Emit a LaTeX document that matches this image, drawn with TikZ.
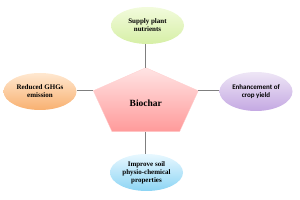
\documentclass[tikz,border=0pt]{standalone}
\usepackage{fontspec}
\setmainfont{Liberation Serif}
\newfontfamily\calib{Carlito}
\usetikzlibrary{shapes.geometric}
\definecolor{gtop}{HTML}{F2FBDC}\definecolor{gbot}{HTML}{D6EFA6}
\definecolor{otop}{HTML}{FFE8D0}\definecolor{obot}{HTML}{F8B070}
\definecolor{ptop}{HTML}{EEE6F6}\definecolor{pbot}{HTML}{C4A8E2}
\definecolor{btop}{HTML}{E8F8FF}\definecolor{bbot}{HTML}{8CD4F4}
\definecolor{ktop}{HTML}{FFE4E4}\definecolor{kbot}{HTML}{FF9A9A}
\definecolor{linkc}{HTML}{7F7F7F}
\tikzset{
  bubble/.style={ellipse, minimum width=73pt, minimum height=37pt, inner sep=0pt,
    align=center, font=\fontsize{7}{8}\selectfont\bfseries},
  link/.style={draw=linkc, line width=0.8pt}
}
\begin{document}
\begin{tikzpicture}[x=1pt,y=1pt]
\useasboundingbox (0,0) rectangle (300,200);
% pentagon
\coordinate (pt) at (145.8,132.3);
\coordinate (pl) at (93.3,109.3);
\coordinate (pr) at (198.3,109.3);
\coordinate (pbr) at (179.6,68.3);
\coordinate (pbl) at (112.0,68.3);
\coordinate (pb) at (145.8,68.3);
\path[top color=ktop, bottom color=kbot, draw=ktop!70!kbot, line width=0.3pt]
  (pt) -- (pr) -- (pbr) -- (pbl) -- (pl) -- cycle;
\node[font=\fontsize{9.5}{11}\selectfont\bfseries] (bio) at (145.8,97) {Biochar};
% bubbles
\node[bubble, top color=gtop, bottom color=gbot] (sup) at (147.5,174.5) {Supply plant\\nutrients};
\node[bubble, top color=otop, bottom color=obot] (red) at (40,108.5) {Reduced GHGs\\emission};
\node[bubble, minimum height=39pt, top color=ptop, bottom color=pbot, font=\calib\fontsize{7}{8}\selectfont\bfseries] (enh) at (256,108.5) {Enhancement of\\crop yield};
\node[bubble, top color=btop, bottom color=bbot] (imp) at (146.5,27.5) {Improve soil\\physio-chemical\\properties};
% connectors
\draw[link] (sup.south -| pt) -- (pt);
\draw[link] (red.east |- pl) -- (pl);
\draw[link] (pr) -- (enh.west |- pr);
\draw[link] (pb) -- (imp.north -| pb);
\end{tikzpicture}
\end{document}
